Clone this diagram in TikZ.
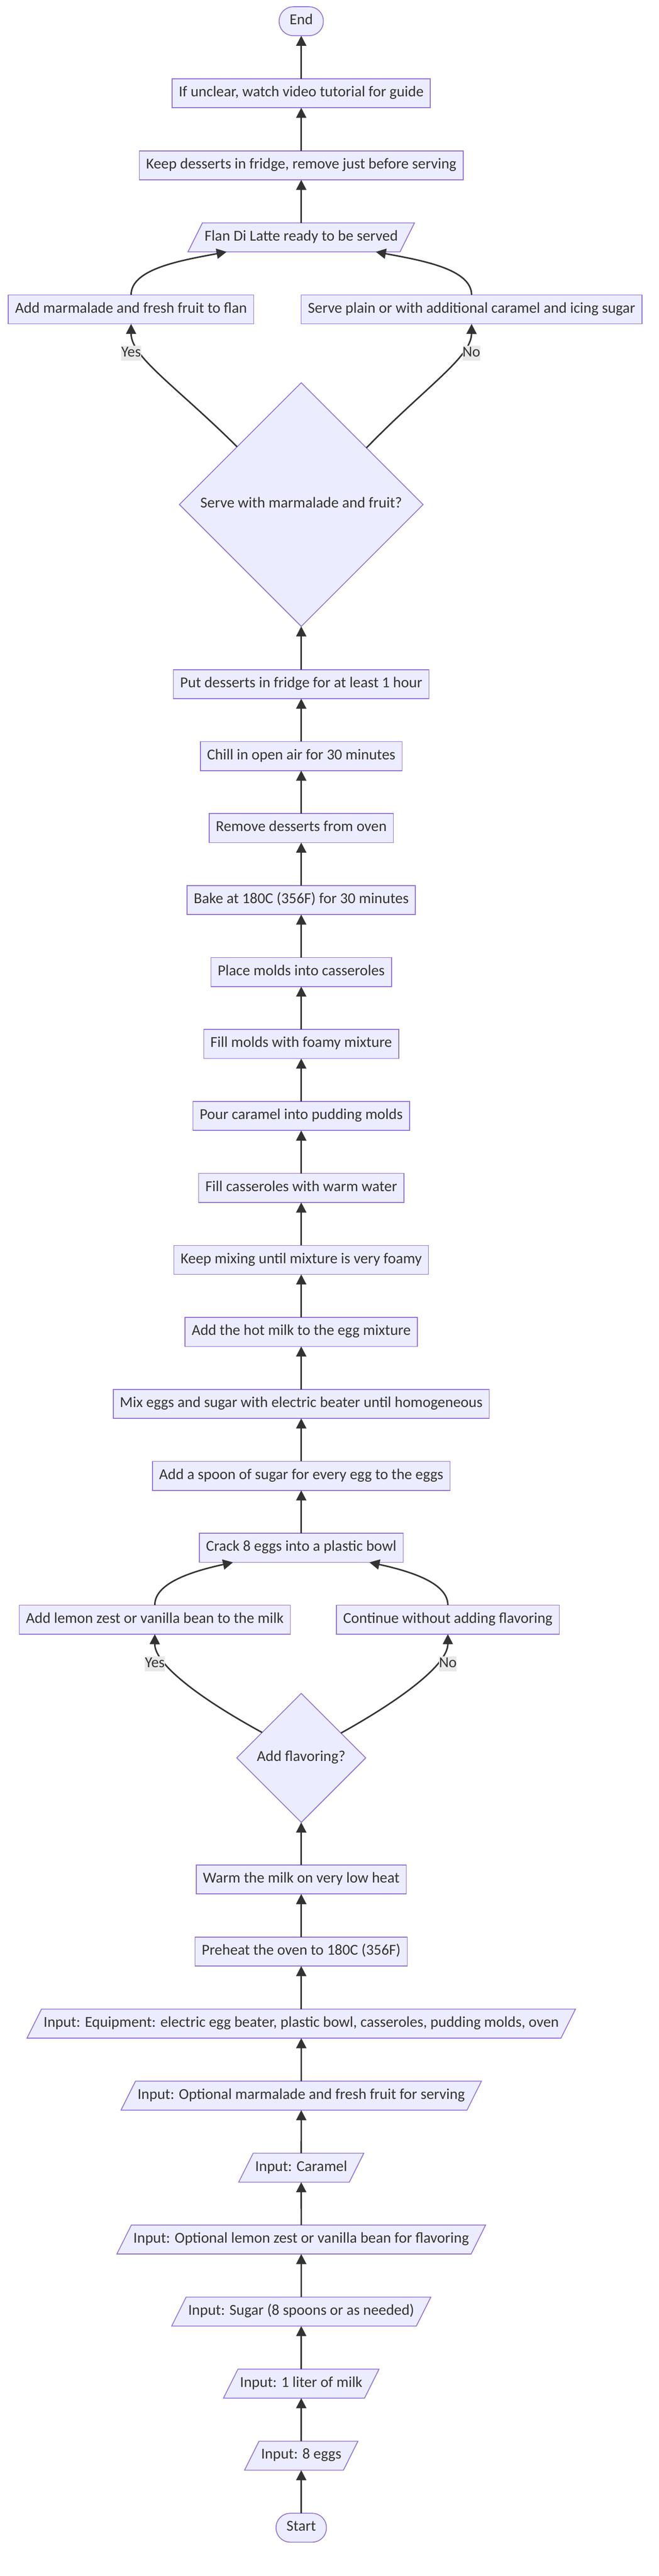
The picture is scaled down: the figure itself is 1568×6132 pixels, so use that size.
\documentclass[tikz,border=0pt]{standalone}
\usepackage{fontspec}
\setmainfont{Carlito}
\usetikzlibrary{shapes.geometric,arrows.meta}
\definecolor{boxfill}{HTML}{ECECFF}
\definecolor{boxline}{HTML}{9370DB}
\definecolor{ink}{HTML}{333333}
\definecolor{lblfill}{HTML}{E8E8E8}

\begin{document}
\begin{tikzpicture}[x=1pt,y=-1pt,
    base/.style={draw=boxline, fill=boxfill, line width=2pt, text=ink,
      font=\fontsize{36}{43}\selectfont, text height=25pt, text depth=9pt,
      inner ysep=17.5pt, outer sep=0pt},
    process/.style={base, rectangle, inner xsep=16pt},
    io/.style={base, trapezium, trapezium left angle=63.43,
      trapezium right angle=116.57, inner xsep=5pt},
    terminal/.style={base, rectangle, rounded corners=34pt, inner xsep=25pt},
    decision/.style={base, diamond, aspect=1, inner sep=0pt},
    flow/.style={draw=ink, line width=3.5pt, -{Triangle[length=24pt,width=24pt]}},
    answer/.style={fill=lblfill, text=ink, font=\fontsize{36}{43}\selectfont,
      text height=25pt, text depth=9pt, inner xsep=0pt, inner ysep=1pt}]

    % Page background
    \fill[white] (0,0) rectangle (1568,6132);

    % Serving steps at the top
    \node[terminal] (finish) at (717,50.5) {End};
    \node[process] (tutorial) at (717,222) {If unclear, watch video tutorial for guide};
    \node[process] (keep) at (717,393.5) {Keep desserts in fridge, remove just before serving};
    \node[io] (ready) at (717,565) {Flan Di Latte ready to be served};
    \node[process] (garnish) at (312,736.5) {Add marmalade and fresh fruit to flan};
    \node[process] (plain) at (1122.5,736.5) {Serve plain or with additional caramel and icing sugar};
    \node[decision, minimum width=580pt, minimum height=580pt] (serveq) at (717,1201) {Serve with marmalade and fruit?};

    % Cooking steps
    \node[process] (fridge) at (717,1628.5) {Put desserts in fridge for at least 1 hour};
    \node[process] (chill) at (717,1799.8) {Chill in open air for 30 minutes};
    \node[process] (remove) at (717,1971.2) {Remove desserts from oven};
    \node[process] (bake) at (717,2142.5) {Bake at 180C (356F) for 30 minutes};
    \node[process] (place) at (717,2313.8) {Place molds into casseroles};
    \node[process] (fillmolds) at (717,2485.2) {Fill molds with foamy mixture};
    \node[process] (pour) at (717,2656.5) {Pour caramel into pudding molds};
    \node[process] (water) at (717,2827.8) {Fill casseroles with warm water};
    \node[process] (foamy) at (717,2999.1) {Keep mixing until mixture is very foamy};
    \node[process] (hotmilk) at (717,3170.5) {Add the hot milk to the egg mixture};
    \node[process] (beat) at (717,3341.8) {Mix eggs and sugar with electric beater until homogeneous};
    \node[process] (spoon) at (717,3513.1) {Add a spoon of sugar for every egg to the eggs};
    \node[process] (crack) at (717,3684.5) {Crack 8 eggs into a plastic bowl};
    \node[process] (zest) at (368.5,3855.5) {Add lemon zest or vanilla bean to the milk};
    \node[process] (nozest) at (1066,3855.5) {Continue without adding flavoring};
    \node[decision, minimum width=307pt, minimum height=307pt] (flavorq) at (717,4184.5) {Add flavoring?};
    \node[process] (warm) at (717,4474) {Warm the milk on very low heat};
    \node[process] (preheat) at (717,4645.5) {Preheat the oven to 180C (356F)};

    % Inputs at the bottom
    \node[io] (equip) at (717,4817) {Input: Equipment: electric egg beater, plastic bowl, casseroles, pudding molds, oven};
    \node[io] (inmarm) at (717,4988.5) {Input: Optional marmalade and fresh fruit for serving};
    \node[io] (incaramel) at (717,5160) {Input: Caramel};
    \node[io] (inlemon) at (717,5331) {Input: Optional lemon zest or vanilla bean for flavoring};
    \node[io] (insugar) at (717,5502.5) {Input: Sugar (8 spoons or as needed)};
    \node[io] (inmilk) at (717,5674) {Input: 1 liter of milk};
    \node[io] (ineggs) at (717,5845.5) {Input: 8 eggs};
    \node[terminal] (begin) at (717,6017) {Start};

    % Straight arrows
    \draw[flow] (begin) -- (ineggs);
    \draw[flow] (ineggs) -- (inmilk);
    \draw[flow] (inmilk) -- (insugar);
    \draw[flow] (insugar) -- (inlemon);
    \draw[flow] (inlemon) -- (incaramel);
    \draw[flow] (incaramel) -- (inmarm);
    \draw[flow] (inmarm) -- (equip);
    \draw[flow] (equip) -- (preheat);
    \draw[flow] (preheat) -- (warm);
    \draw[flow] (warm) -- (flavorq);
    \draw[flow] (crack) -- (spoon);
    \draw[flow] (spoon) -- (beat);
    \draw[flow] (beat) -- (hotmilk);
    \draw[flow] (hotmilk) -- (foamy);
    \draw[flow] (foamy) -- (water);
    \draw[flow] (water) -- (pour);
    \draw[flow] (pour) -- (fillmolds);
    \draw[flow] (fillmolds) -- (place);
    \draw[flow] (place) -- (bake);
    \draw[flow] (bake) -- (remove);
    \draw[flow] (remove) -- (chill);
    \draw[flow] (chill) -- (fridge);
    \draw[flow] (fridge) -- (serveq);
    \draw[flow] (ready) -- (keep);
    \draw[flow] (keep) -- (tutorial);
    \draw[flow] (tutorial) -- (finish);

    % Flavoring branch
    \draw[flow] (flavorq.147.7) .. controls (470,4040) and (368,3960) .. (zest.south);
    \draw[flow] (flavorq.32.3) .. controls (965,4040) and (1066,3960) .. (nozest.south);
    \draw[flow] (zest.north) .. controls (368,3770) and (450,3742) .. (crack.192.9);
    \draw[flow] (nozest.north) .. controls (1066,3770) and (985,3742) .. (crack.-12.9);
    \node[answer] (yesflavor) at (368.5,3961) {Yes};
    \node[answer] (noflavor) at (1066,3961) {No};

    % Serving branch
    \draw[flow] (serveq.138.5) .. controls (420,920) and (312,850) .. (garnish.south);
    \draw[flow] (serveq.41.5) .. controls (1014,920) and (1122,850) .. (plain.south);
    \draw[flow] (garnish.north) .. controls (312,640) and (430,620) .. (ready.191.7);
    \draw[flow] (plain.north) .. controls (1122,640) and (1004,620) .. (ready.-11.7);
    \node[answer] (yesserve) at (312,841) {Yes};
    \node[answer] (noserve) at (1122,841) {No};
\end{tikzpicture}
\end{document}
